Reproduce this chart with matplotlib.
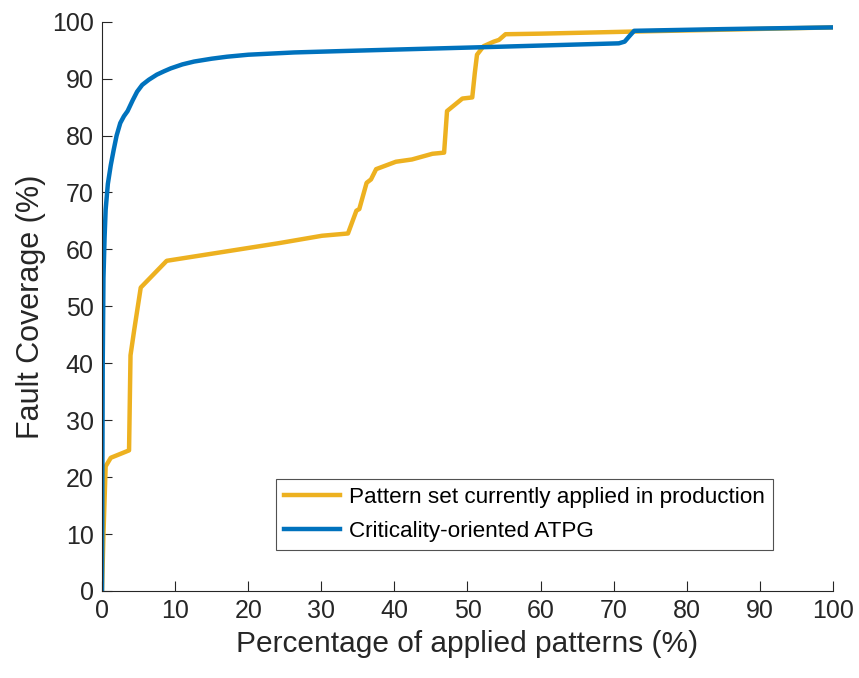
import matplotlib
matplotlib.use("Agg")
import matplotlib.pyplot as plt

# Fault coverage curves
prod_x = [0, 0.2, 0.5, 1.2, 3.7, 3.9, 4.4, 5.3, 8.85, 24.2, 30.1, 33.65, 34.8, 35.2,
          36.2, 36.8, 37.5, 40.2, 42.4, 45.2, 46.8, 47.2, 49.3, 50.65, 51.0, 51.3,
          52.2, 53.6, 54.3, 55.2, 60.0, 72.1, 85.0, 100.0]
prod_y = [0, 10.0, 21.9, 23.4, 24.7, 41.4, 45.8, 53.3, 58.0, 61.1, 62.4, 62.8, 66.8, 67.1,
          71.7, 72.3, 74.1, 75.4, 75.8, 76.8, 77.0, 84.3, 86.5, 86.7, 91.0, 94.2,
          95.7, 96.5, 96.8, 97.8, 97.9, 98.25, 98.6, 99.0]

crit_x = [0, 0.05, 0.1, 0.2, 0.35, 0.5, 0.8, 1.2, 1.6, 2.0, 2.5, 3.0, 3.5, 4.2, 4.8, 5.5,
          6.4, 7.5, 8.5, 9.4, 11.0, 12.6, 15.0, 17.1, 20.0, 26.3, 33.0, 40.0, 54.3,
          70.7, 71.5, 72.1, 72.8, 85.0, 100.0]
crit_y = [0, 20.0, 40.0, 55.0, 62.0, 67.0, 71.5, 74.8, 77.5, 80.0, 82.2, 83.4, 84.3, 86.2,
          87.7, 88.9, 89.8, 90.7, 91.3, 91.8, 92.5, 93.0, 93.5, 93.85, 94.2, 94.6, 94.85,
          95.1, 95.6, 96.2, 96.5, 97.4, 98.4, 98.7, 99.0]

x_ticks = list(range(0, 101, 10))
y_ticks = list(range(0, 101, 10))

plt.rcParams['font.family'] = ['Liberation Sans', 'DejaVu Sans']
txt = '#262626'

fig = plt.figure(figsize=(8.59, 6.78), dpi=100)
ax = fig.add_axes([102 / 859, 1 - 591 / 678, (833 - 102) / 859, (591 - 21.7) / 678])

ax.plot(prod_x, prod_y, color='#EDB120', linewidth=3.2,
        label='Pattern set currently applied in production', solid_joinstyle='round')
ax.plot(crit_x, crit_y, color='#0072BD', linewidth=3.2,
        label='Criticality-oriented ATPG', solid_joinstyle='round')

ax.set_xlim(0, 100)
ax.set_ylim(0, 100)
ax.set_xticks(x_ticks)
ax.set_yticks(y_ticks)
ax.spines['top'].set_visible(False)
ax.spines['right'].set_visible(False)
for s in ['left', 'bottom']:
    ax.spines[s].set_color(txt)
    ax.spines[s].set_linewidth(0.8)
ax.tick_params(direction='in', length=7, width=0.8, colors=txt, labelsize=18, pad=6)
for lab in ax.get_xticklabels() + ax.get_yticklabels():
    lab.set_color(txt)

ax.set_xlabel('Percentage of applied patterns (%)', fontsize=21.5, color=txt, labelpad=5)
ax.set_ylabel('Fault Coverage (%)', fontsize=22, color=txt, labelpad=4)

leg = ax.legend(loc='lower right', bbox_to_anchor=(773 / 859, 1 - 550 / 678),
                bbox_transform=fig.transFigure, fontsize=16.2, frameon=True, fancybox=False,
                edgecolor='#262626', handlelength=2.5, handletextpad=0.4,
                borderpad=0.35, labelspacing=0.58, borderaxespad=0)
leg.get_frame().set_linewidth(0.8)
for t in leg.get_texts():
    t.set_color('black')

fig.savefig('out.png', dpi=100)
